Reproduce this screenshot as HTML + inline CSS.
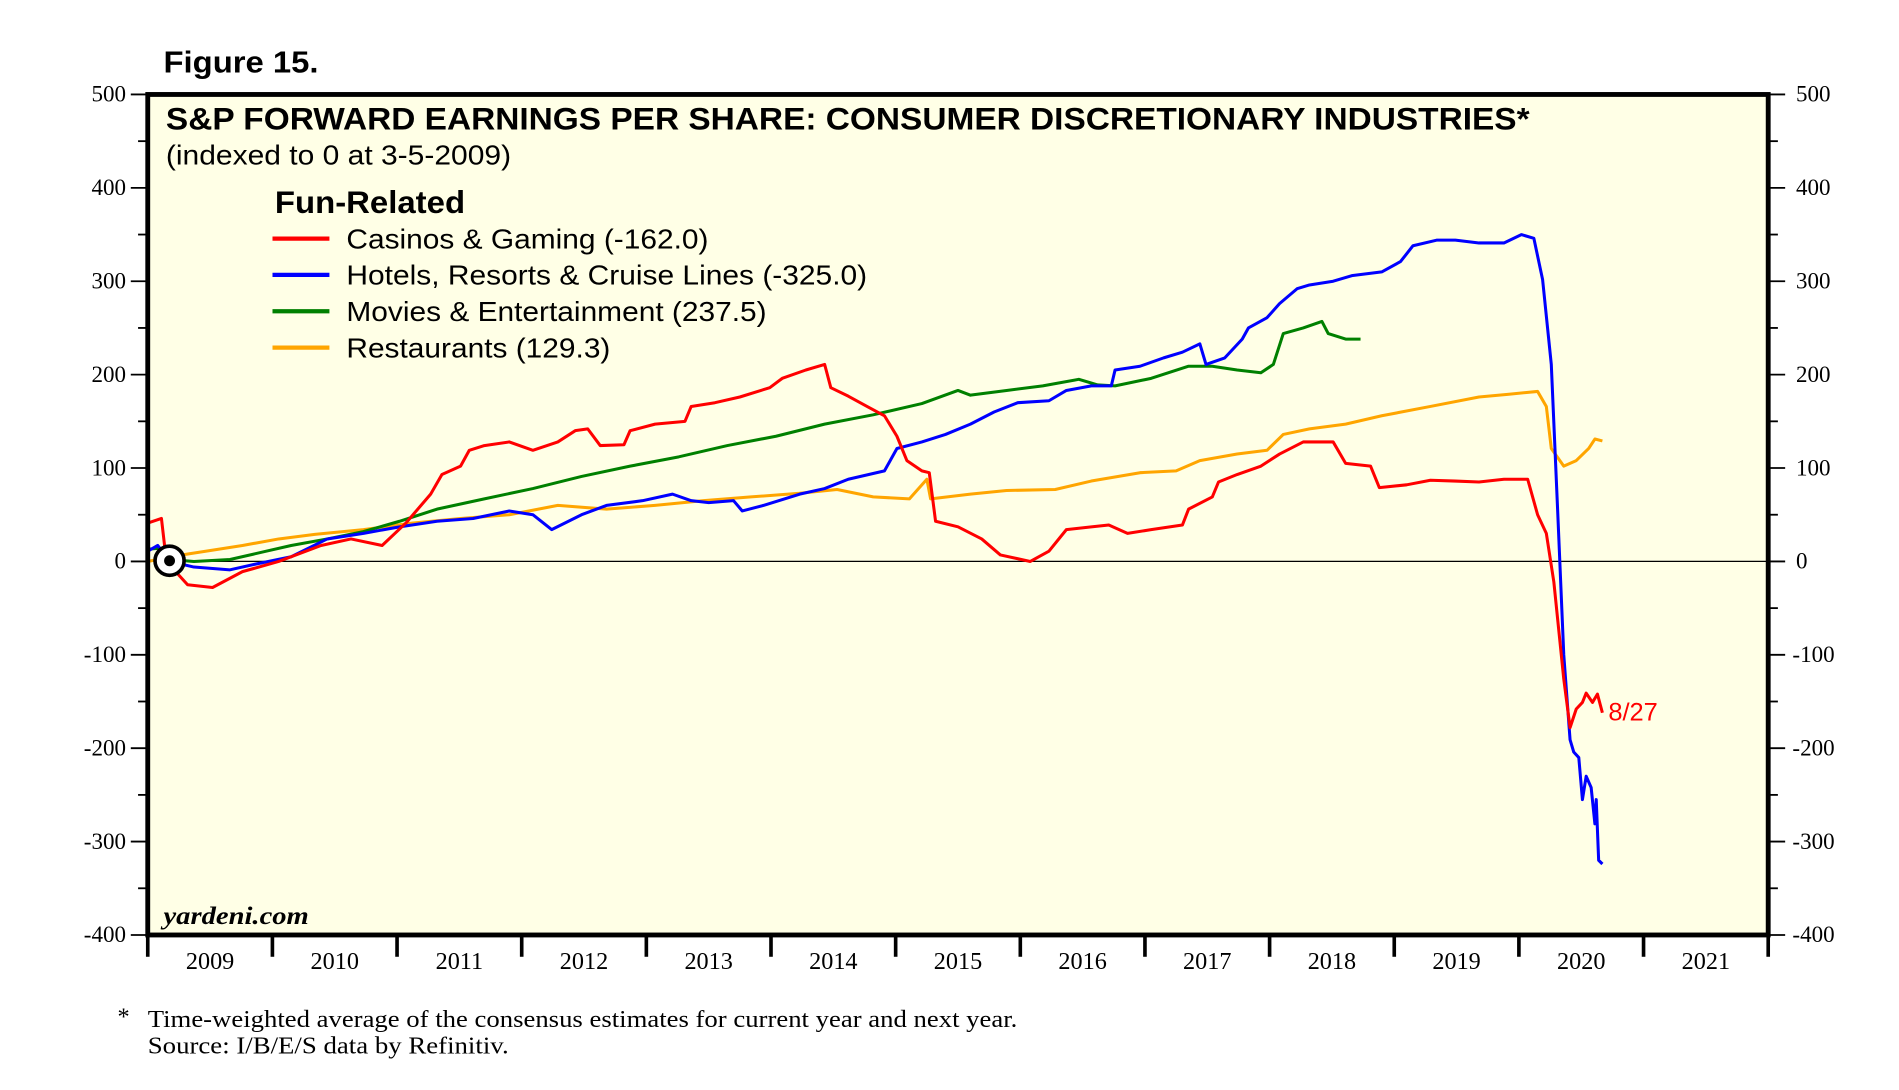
<!DOCTYPE html>
<html><head><meta charset="utf-8"><style>
html,body{margin:0;padding:0;background:#fff;}
svg{display:block;}
.ser{font-family:"Liberation Serif",serif;}
.san{font-family:"Liberation Sans",sans-serif;}
</style></head><body>
<svg id="chart" width="1899" height="1090" viewBox="0 0 1568 900" preserveAspectRatio="none" xmlns="http://www.w3.org/2000/svg">
<text class="san" x="135" y="60" font-size="25" font-weight="bold" textLength="128" lengthAdjust="spacingAndGlyphs">Figure 15.</text>
<rect x="122" y="78" width="1338" height="694" fill="#ffffe6"/>
<g id="grid"></g>
<g id="series"></g>
<rect x="122" y="78" width="1338" height="694" fill="none" stroke="#000" stroke-width="4"/>
<g id="axes"></g>
<text class="san" x="137" y="107" font-size="26" font-weight="bold" textLength="1126" lengthAdjust="spacingAndGlyphs">S&amp;P FORWARD EARNINGS PER SHARE: CONSUMER DISCRETIONARY INDUSTRIES*</text>
<text class="san" x="137" y="136" font-size="23" textLength="285" lengthAdjust="spacingAndGlyphs">(indexed to 0 at 3-5-2009)</text>
<text class="san" x="227" y="176" font-size="26" font-weight="bold" textLength="157" lengthAdjust="spacingAndGlyphs">Fun-Related</text>
<g id="legend"></g>
<text class="ser" x="135" y="763" font-size="21" font-weight="bold" font-style="italic" textLength="120" lengthAdjust="spacingAndGlyphs">yardeni.com</text>
<text class="san" x="1328" y="595" font-size="21" fill="#ff0000">8/27</text>
<circle cx="140" cy="463" r="12" fill="#fff" stroke="#000" stroke-width="3"/>
<circle cx="140" cy="463" r="4.5" fill="#000"/>
<text class="ser" x="97" y="846" font-size="20">*</text>
<text class="ser" x="122" y="848" font-size="20" textLength="718" lengthAdjust="spacingAndGlyphs">Time-weighted average of the consensus estimates for current year and next year.</text>
<text class="ser" x="122" y="870" font-size="20" textLength="298" lengthAdjust="spacingAndGlyphs">Source: I/B/E/S data by Refinitiv.</text>
</svg>
<script>
const yTicks = [500,400,300,200,100,0,-100,-200,-300,-400];
const years = [2009,2010,2011,2012,2013,2014,2015,2016,2017,2018,2019,2020,2021];
const legendNames = ["Casinos & Gaming (-162.0)","Hotels, Resorts & Cruise Lines (-325.0)","Movies & Entertainment (237.5)","Restaurants (129.3)"];
const legendW = [299,430,347,218];
const colors = ["#ff0000","#0000ff","#008000","#ffa500"];
// dates as years since 2009-01-01
const casinoT = [0,0.11,0.15,0.32,0.52,0.76,1.05,1.39,1.63,1.88,2.07,2.27,2.36,2.51,2.58,2.70,2.90,3.09,3.29,3.43,3.53,3.63,3.82,3.87,4.07,4.31,4.36,4.55,4.75,4.99,5.09,5.28,5.43,5.48,5.62,5.77,5.91,6.01,6.09,6.21,6.27,6.32,6.50,6.69,6.84,7.08,7.23,7.37,7.57,7.71,7.86,8.05,8.30,8.35,8.54,8.59,8.74,8.93,9.08,9.27,9.51,9.61,9.81,9.88,10.10,10.29,10.49,10.68,10.88,11.07,11.15,11.22,11.28,11.36,11.41,11.46,11.51,11.54,11.59,11.63,11.67];
const casinoV = [41,46,0,-25,-28,-11,0,17,24,17,41,72,93,102,119,124,128,119,128,140,142,124,125,140,147,150,166,170,176,186,196,205,211,186,177,166,156,134,108,97,95,43,37,24,7,0,11,34,37,39,30,34,39,56,69,85,93,102,115,128,128,105,102,79,82,87,86,85,88,88,50,30,-22,-126,-178,-158,-151,-141,-151,-142,-162];
const hotelT = [0,0.08,0.18,0.37,0.66,0.86,1.15,1.44,1.73,2.02,2.32,2.61,2.90,3.09,3.24,3.48,3.68,3.97,4.21,4.36,4.50,4.70,4.77,4.94,5.23,5.43,5.62,5.91,6.01,6.21,6.40,6.60,6.79,6.98,7.23,7.37,7.57,7.73,7.76,7.96,8.15,8.30,8.44,8.49,8.64,8.78,8.83,8.98,9.08,9.22,9.32,9.51,9.66,9.90,10.05,10.15,10.34,10.49,10.68,10.88,11.02,11.12,11.19,11.26,11.31,11.36,11.41,11.44,11.48,11.51,11.54,11.58,11.61,11.62,11.64,11.67];
const hotelV = [11,17,0,-6,-9,-3,5,24,30,37,43,46,54,50,34,50,60,65,72,65,63,65,54,60,72,78,88,97,121,128,136,147,160,170,172,183,188,188,205,209,218,224,233,211,218,238,250,261,276,292,296,300,306,310,321,338,344,344,341,341,350,346,302,211,56,-100,-191,-204,-210,-255,-230,-242,-281,-255,-320,-324];
const movieT = [0,0.08,0.18,0.37,0.66,0.95,1.15,1.44,1.73,2.02,2.32,2.70,3.09,3.48,3.87,4.26,4.65,5.04,5.43,5.82,6.21,6.50,6.60,6.89,7.18,7.47,7.62,7.76,8.05,8.35,8.54,8.74,8.93,9.03,9.11,9.27,9.42,9.47,9.61,9.73];
const movieV = [13,14,2,0,2,11,17,24,32,43,56,67,78,91,102,112,124,134,147,157,169,183,178,183,188,195,189,188,196,209,209,205,202,211,244,250,257,244,238,238];
const restT = [0,0.18,0.47,0.76,1.05,1.34,1.73,2.12,2.51,2.90,3.29,3.68,4.07,4.46,4.84,5.23,5.53,5.82,6.11,6.25,6.28,6.60,6.89,7.28,7.57,7.96,8.25,8.44,8.74,8.98,9.11,9.32,9.61,9.90,10.29,10.68,10.92,11.15,11.22,11.26,11.36,11.46,11.56,11.61,11.67];
const restV = [0,5,11,17,24,29,34,41,46,50,60,56,60,65,69,73,77,69,67,88,67,72,76,77,86,95,97,108,115,119,136,142,147,156,166,176,179,182,166,121,102,108,121,131,129];

const X0=122, X1=1460, Y0=772, Y1=78, YMIN=-400, YMAX=500;
const yearW=(X1-X0)/years.length;
function xs(t){return X0 + t*yearW;}
function ys(v){return Y0 - (v-YMIN)/(YMAX-YMIN)*(Y0-Y1);}
const NS="http://www.w3.org/2000/svg";
function mk(tag,parent){const e=document.createElementNS(NS,tag);parent.appendChild(e);return e;}

const axes=document.getElementById('axes'), grid=document.getElementById('grid');
const zl=mk('line',grid);


zl.setAttribute('x1',X0);zl.setAttribute('x2',X1);zl.setAttribute('y1',ys(0));zl.setAttribute('y2',ys(0));zl.setAttribute('stroke','#000');zl.setAttribute('stroke-width','1');

for(let v=YMIN; v<=YMAX; v+=50){
  const major = v%100===0;
  [[X0-(major?14:8),X0],[X1,X1+(major?14:8)]].forEach(function(p,i){
    const l=mk('line',axes);
    
    
    l.setAttribute('x1',p[0]);l.setAttribute('x2',p[1]);l.setAttribute('y1',ys(v));l.setAttribute('y2',ys(v));l.setAttribute('stroke','#000');l.setAttribute('stroke-width','1.5');
  });
}
yTicks.forEach(function(v){
  const a=mk('text',axes);
  
  
  a.setAttribute('class','ser');a.setAttribute('x',X0-18);a.setAttribute('y',ys(v)+6);a.setAttribute('text-anchor','end');a.setAttribute('font-size','19');a.textContent=v;
  const b=mk('text',axes);
  
  
  b.setAttribute('class','ser');b.setAttribute('x',v<0?X1+20:X1+23);b.setAttribute('y',ys(v)+6);b.setAttribute('font-size','19');b.textContent=v;
});
for(let i=0;i<=years.length;i++){
  const l=mk('line',axes);
  
  
  l.setAttribute('x1',xs(i));l.setAttribute('x2',xs(i));l.setAttribute('y1',Y0);l.setAttribute('y2',Y0+18);l.setAttribute('stroke','#000');l.setAttribute('stroke-width','3');
}
years.forEach(function(y,i){
  const t=mk('text',axes);
  
  
  t.setAttribute('class','ser');t.setAttribute('x',xs(i+0.5));t.setAttribute('y',Y0+28);t.setAttribute('text-anchor','middle');t.setAttribute('font-size','20');t.textContent=y;
});

const sg=document.getElementById('series');
const seriesT=[casinoT,hotelT,movieT,restT], seriesV=[casinoV,hotelV,movieV,restV];
const sNames=['casinos-line','hotels-line','movies-line','restaurants-line'];
[3,2,1,0].forEach(function(k){
  const p=mk('path',sg);
  
  
  let d='';
  seriesT[k].forEach(function(t,i){d+=(i?'L':'M')+xs(t).toFixed(1)+' '+ys(seriesV[k][i]).toFixed(1);});
  p.setAttribute('d',d);p.setAttribute('fill','none');p.setAttribute('stroke',colors[k]);p.setAttribute('stroke-width','2.5');p.setAttribute('stroke-linejoin','round');
});

const lg=document.getElementById('legend');
legendNames.forEach(function(n,i){
  const y=197+i*30;
  const l=mk('line',lg);
  
  
  l.setAttribute('x1',225);l.setAttribute('x2',272);l.setAttribute('y1',y);l.setAttribute('y2',y);l.setAttribute('stroke',colors[i]);l.setAttribute('stroke-width','3.5');
  const t=mk('text',lg);
  
  
  t.setAttribute('class','san');t.setAttribute('x',286);t.setAttribute('y',y+8);t.setAttribute('font-size','23');
  t.setAttribute('textLength',legendW[i]);t.setAttribute('lengthAdjust','spacingAndGlyphs');
  t.textContent=n;
});
</script>
</body></html>
